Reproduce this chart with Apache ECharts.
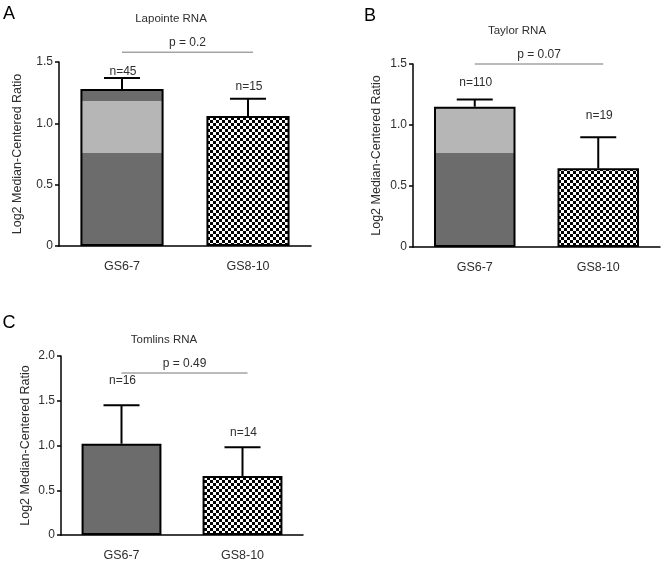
<!DOCTYPE html>
<html>
<head>
<meta charset="utf-8">
<script src="https://cdn.jsdelivr.net/npm/echarts@6/dist/echarts.min.js"></script>
<style>html,body{margin:0;padding:0;background:#fff;}#c{width:664px;height:566px;}</style>
</head>
<body>
<div id="c"></div>
<script>
// ---- data ----
const categories = ['GS6-7', 'GS8-10'];

const lapointeMeans = [1.28, 1.06];
const lapointeErr = [0.09, 0.14];
const lapointeN = ['n=45', 'n=15'];
const lapointeP = 'p = 0.2';
const lapointePLevel = 1.58;
const lapointeBand = [0.76, 1.18];

const taylorMeans = [1.15, 0.645];
const taylorErr = [0.06, 0.255];
const taylorN = ['n=110', 'n=19'];
const taylorP = 'p = 0.07';
const taylorPLevel = 1.5;
const taylorBand = [0.77, 1.15];

const tomlinsMeans = [1.02, 0.66];
const tomlinsErr = [0.43, 0.32];
const tomlinsN = ['n=16', 'n=14'];
const tomlinsP = 'p = 0.49';
const tomlinsPLevel = 1.81;
const tomlinsBand = null;

const panelTitles = ['Lapointe RNA', 'Taylor RNA', 'Tomlins RNA'];
const panelLetters = ['A', 'B', 'C'];
const yMaxes = [1.5, 1.5, 2.0];
const yAxisName = 'Log2 Median-Centered Ratio';

// ---- styles / layout ----
const FONT = 'Liberation Sans, Arial, sans-serif';
const TXT = '#2e2e2e';
const DARK = '#6c6c6c';
const LIGHT = '#b6b6b6';
const grids = [
  {left: 59, top: 62, width: 252, height: 184},
  {left: 413, top: 64, width: 247, height: 183},
  {left: 61, top: 356, width: 242, height: 179}
];
const nameGaps = [35, 30, 29];
const nOffsets = [[6, 12], [17, 22], [25, 15]];
const titlePos = [[171, 19], [517, 31], [164, 340]];
const letterPos = [[9, 14], [370, 16], [9, 323]];

function checker() {
  const c = document.createElement('canvas');
  c.width = 6; c.height = 6;
  const g = c.getContext('2d');
  g.fillStyle = '#fff'; g.fillRect(0, 0, 6, 6);
  g.fillStyle = '#000';
  g.fillRect(0, 0, 3, 3); g.fillRect(3, 3, 3, 3);
  return {image: c, repeat: 'repeat'};
}
const checkerPattern = checker();

function greyFill(top, band) {
  if (!band) return DARK;
  const f1 = Math.max(0, (top - band[1]) / top);
  const f2 = (top - band[0]) / top;
  return {
    type: 'linear', x: 0, y: 0, x2: 0, y2: 1,
    colorStops: [
      {offset: 0, color: DARK}, {offset: f1, color: DARK},
      {offset: f1, color: LIGHT}, {offset: f2, color: LIGHT},
      {offset: f2, color: DARK}, {offset: 1, color: DARK}
    ]
  };
}

const panels = [
  {means: lapointeMeans, err: lapointeErr, n: lapointeN, p: lapointeP, pl: lapointePLevel, band: lapointeBand},
  {means: taylorMeans, err: taylorErr, n: taylorN, p: taylorP, pl: taylorPLevel, band: taylorBand},
  {means: tomlinsMeans, err: tomlinsErr, n: tomlinsN, p: tomlinsP, pl: tomlinsPLevel, band: tomlinsBand}
];

const xAxes = [], yAxes = [], series = [], graphics = [];
panels.forEach((pn, k) => {
  xAxes.push({
    type: 'category', gridIndex: k, data: categories,
    axisLine: {lineStyle: {color: '#000', width: 1.5}},
    axisTick: {alignWithLabel: true, length: 5, lineStyle: {color: '#000', width: 1.5}},
    axisLabel: {color: TXT, fontSize: 12.5, margin: 14, fontFamily: FONT}
  });
  yAxes.push({
    type: 'value', gridIndex: k, min: 0, max: yMaxes[k], interval: 0.5,
    name: yAxisName, nameLocation: 'middle', nameGap: nameGaps[k], nameRotate: 90,
    nameTextStyle: {color: TXT, fontSize: 12.5, fontFamily: FONT},
    splitLine: {show: false},
    axisLine: {show: true, lineStyle: {color: '#000', width: 1.5}},
    axisTick: {show: true, length: 4, lineStyle: {color: '#000', width: 1.5}},
    axisLabel: {color: TXT, fontSize: 12, margin: 6, fontFamily: FONT,
      formatter: v => v === 0 ? '0' : v.toFixed(1)}
  });
  series.push({
    type: 'bar', xAxisIndex: k, yAxisIndex: k, barWidth: '66%',
    data: pn.means.map((v, i) => ({
      value: v,
      itemStyle: {color: i === 0 ? greyFill(v, pn.band) : checkerPattern, borderColor: '#000', borderWidth: 2}
    })),
    z: 2
  });
  const offs = nOffsets[k];
  series.push({
    type: 'custom', xAxisIndex: k, yAxisIndex: k, z: 3,
    data: pn.means.map((m, i) => [i, m, pn.err[i], i]),
    encode: {x: 0, y: 1},
    renderItem: (params, api) => {
      const i = api.value(3);
      const base = api.coord([api.value(0), api.value(1)]);
      const top = api.coord([api.value(0), api.value(1) + api.value(2)]);
      const st = {stroke: '#000', lineWidth: 2};
      return {type: 'group', children: [
        {type: 'line', shape: {x1: top[0], y1: base[1], x2: top[0], y2: top[1]}, style: st},
        {type: 'line', shape: {x1: top[0] - 18, y1: top[1], x2: top[0] + 18, y2: top[1]}, style: st},
        {type: 'text', style: {text: pn.n[i], x: top[0] + 1, y: top[1] - offs[i], align: 'center', verticalAlign: 'middle',
          fill: TXT, font: '12px ' + FONT}}
      ]};
    }
  });
  series.push({
    type: 'custom', xAxisIndex: k, yAxisIndex: k, z: 3,
    data: [[0, pn.pl]],
    encode: {x: 0, y: 1},
    renderItem: (params, api) => {
      const a = api.coord([0, api.value(1)]);
      const b = api.coord([1, api.value(1)]);
      const x2 = b[0] + 5;
      return {type: 'group', children: [
        {type: 'line', shape: {x1: a[0], y1: a[1], x2: x2, y2: a[1]}, style: {stroke: '#777', lineWidth: 1}},
        {type: 'text', style: {text: pn.p, x: (a[0] + x2) / 2, y: a[1] - 9, align: 'center', verticalAlign: 'middle',
          fill: TXT, font: '12px ' + FONT}}
      ]};
    }
  });
  graphics.push({type: 'text', x: titlePos[k][0], y: titlePos[k][1],
    style: {text: panelTitles[k], align: 'center', verticalAlign: 'middle', fill: TXT, font: '11.5px ' + FONT}});
  graphics.push({type: 'text', x: letterPos[k][0], y: letterPos[k][1],
    style: {text: panelLetters[k], align: 'center', verticalAlign: 'middle', fill: '#000', font: '18px ' + FONT}});
});

const chart = echarts.init(document.getElementById('c'), null, {renderer: 'canvas'});
chart.setOption({
  animation: false,
  backgroundColor: '#fff',
  textStyle: {fontFamily: FONT},
  grid: grids,
  xAxis: xAxes,
  yAxis: yAxes,
  series: series,
  graphic: graphics
});
</script>
</body>
</html>
